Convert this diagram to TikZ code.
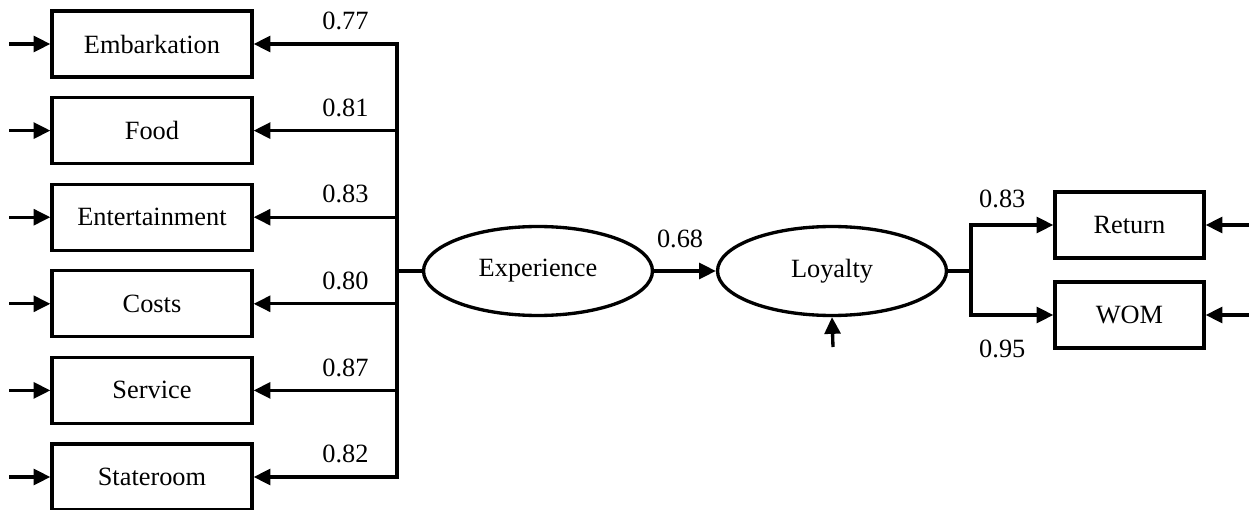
\documentclass[tikz,border=0pt]{standalone}
\usepackage{fontspec}
\setmainfont{Liberation Serif}
\usetikzlibrary{arrows.meta, shapes.geometric}
\tikzstyle{diagram} = [x = 0.02cm, y = -0.02cm]
\tikzstyle{pathLine} = [line width=1.9pt]
\tikzstyle{arrowLine} = [pathLine, -{Triangle[length=9.5pt, width=9pt]}]
\tikzstyle{labelText} = [font=\fontsize{15}{18}\selectfont]
\tikzstyle{indicatorBox} = [draw, pathLine, labelText, minimum width=4cm, minimum height=1.32cm, inner sep=0]
\tikzstyle{outcomeBox} = [indicatorBox, minimum width=2.98cm]
\tikzstyle{latentShape} = [draw, pathLine, labelText, ellipse, minimum width=4.58cm, minimum height=1.78cm, inner sep=0]
\tikzstyle{coefText} = [labelText, inner sep=1pt]
\newcommand{\leftIndicator}[4]{
  \node [indicatorBox] (#1) at (152, #4) {#2};
  \coordinate (#1In) at (9, #4);
  \draw [arrowLine] (#1In) -- (#1.west);
  \draw [arrowLine] (exp.west) -- (busJoin) |- (#1.east) node [coefText, pos=0.68, above=6pt] {#3};
}
\newcommand{\rightIndicator}[4]{
  \node [outcomeBox] (#1) at (1129.5, #4) {#2};
  \coordinate (#1In) at (1249, #4);
  \draw [arrowLine] (#1In) -- (#1.east);
}

\begin{document}
\begin{tikzpicture}[diagram]
  \useasboundingbox (0,0) rectangle (1249,510);

  \node [latentShape] (exp) at (538, 271) {Experience};
  \node [latentShape] (loy) at (832, 271) {Loyalty};
  \coordinate (busJoin) at (397, 271);
  \coordinate (rightJoin) at (971, 271);
  \coordinate (loyIn) at (833, 347);

  % measurement side
  \foreach \name/\text/\coef [count=\i] in {emb/Embarkation/0.77, food/Food/0.81, ent/Entertainment/0.83, costs/Costs/0.80, serv/Service/0.87, state/Stateroom/0.82} {
    \pgfmathsetmacro{\rowY}{44 + (\i - 1) * 86.6}
    \leftIndicator{\name}{\text}{\coef}{\rowY}
  }

  \draw [arrowLine] (exp.east) -- (loy.west) node [coefText, pos=0.42, above=11pt] {0.68};
  \draw [arrowLine] (loyIn) -- (loy.south);

  % outcome side
  \rightIndicator{ret}{Return}{}{225}
  \rightIndicator{wom}{WOM}{}{315}
  \draw [arrowLine] (loy.east) -- (rightJoin) |- (ret.west) node [coefText, pos=0.69, above=8pt] {0.83};
  \draw [arrowLine] (loy.east) -- (rightJoin) |- (wom.west) node [coefText, pos=0.69, below=12pt] {0.95};
\end{tikzpicture}
\end{document}
